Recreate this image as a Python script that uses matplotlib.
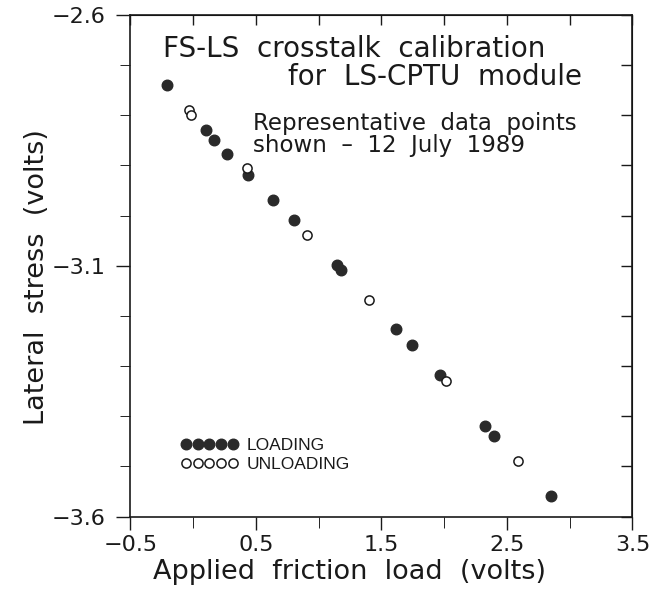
import matplotlib
matplotlib.use("Agg")
import matplotlib.pyplot as plt
from matplotlib.ticker import MultipleLocator, NullFormatter

# Data (volts)
load_x = [-0.207, 0.102, 0.165, 0.267, 0.434, 0.633, 0.800, 1.143, 1.177,
          1.618, 1.741, 1.966, 2.327, 2.396, 2.853]
load_y = [-2.740, -2.830, -2.849, -2.878, -2.919, -2.969, -3.009, -3.098, -3.109,
          -3.227, -3.259, -3.318, -3.419, -3.439, -3.559]

unload_x = [-0.030, -0.014, 0.426, 0.909, 1.398, 2.014, 2.585]
unload_y = [-2.789, -2.800, -2.906, -3.039, -3.168, -3.329, -3.489]

x_ticks = [-0.5, 0.5, 1.5, 2.5, 3.5]
x_minor = [0.0, 1.0, 2.0, 3.0]
y_ticks = [-3.6, -3.1, -2.6]

plt.rcParams['font.family'] = 'DejaVu Sans'
ink = '#1a1a1a'

fig = plt.figure(figsize=(6.57, 5.92), dpi=100)
ax = fig.add_axes([0.1986, 0.1275, 0.7641, 0.8472])

ax.plot(load_x, load_y, 'o', ms=7.6, mfc='#2a2a2a', mec='#2a2a2a', label='LOADING')
ax.plot(unload_x, unload_y, 'o', ms=6.6, mfc='white', mec=ink, mew=1.1, label='UNLOADING')

ax.set_xlim(-0.5, 3.5)
ax.set_ylim(-3.6, -2.6)
ax.set_xticks(x_ticks)
ax.set_xticks(x_minor, minor=True)
ax.set_yticks(y_ticks)
ax.yaxis.set_minor_locator(MultipleLocator(0.1))

for s in ax.spines.values():
    s.set_linewidth(1.2)
    s.set_color(ink)

ax.tick_params(top=False, right=False, direction='out', colors=ink, width=1.0)
ax.tick_params(axis='x', which='major', length=9, pad=4, labelsize=16)
ax.tick_params(axis='x', which='minor', length=8)
ax.tick_params(axis='y', which='major', length=10, pad=8, labelsize=16)
ax.tick_params(axis='y', which='minor', length=7)

# inward ticks on the top and right frame
top = ax.secondary_xaxis('top')
top.xaxis.set_major_locator(MultipleLocator(0.5))
top.xaxis.set_major_formatter(NullFormatter())
top.tick_params(direction='in', length=7, width=1.0, colors=ink)
right = ax.secondary_yaxis('right')
right.yaxis.set_major_locator(MultipleLocator(0.1))
right.yaxis.set_major_formatter(NullFormatter())
right.tick_params(direction='in', length=8, width=1.0, colors=ink)

ax.set_xlabel('Applied  friction  load  (volts)', fontsize=19.5, color=ink)
ax.set_ylabel('Lateral  stress  (volts)', fontsize=19.5, color=ink)
ax.xaxis.set_label_coords(0.437, -0.085)
ax.yaxis.set_label_coords(-0.160, 0.477)

ax.text(0.0647, 0.9163, 'FS-LS  crosstalk  calibration', transform=ax.transAxes,
        fontsize=20, va='baseline', ha='left', color=ink)
ax.text(0.8994, 0.8604, 'for  LS-CPTU  module', transform=ax.transAxes,
        fontsize=20, va='baseline', ha='right', color=ink)
ax.text(0.244, 0.7707, 'Representative  data  points', transform=ax.transAxes,
        fontsize=16.5, va='baseline', ha='left', color=ink)
ax.text(0.244, 0.7268, 'shown  \u2013  12  July  1989', transform=ax.transAxes,
        fontsize=16.5, va='baseline', ha='left', color=ink)

leg = ax.legend(loc='upper left', bbox_to_anchor=(0.10, 0.157), numpoints=5,
                handlelength=3.3, handletextpad=0.5, labelspacing=0.24,
                borderpad=0, borderaxespad=0, frameon=False,
                prop={'family': 'Liberation Sans', 'size': 12.5})
for t in leg.get_texts():
    t.set_color(ink)

fig.savefig('out.png', dpi=100)
